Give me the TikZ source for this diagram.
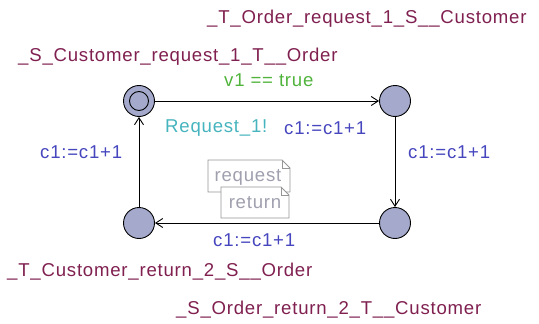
\documentclass[tikz,border=0pt]{standalone}
\usepackage{fontspec}
\setmainfont{Liberation Sans}[LetterSpace=4.2]
\usetikzlibrary{arrows.meta}
\definecolor{locname}{RGB}{128,32,80}
\definecolor{guardc}{RGB}{80,180,60}
\definecolor{syncc}{RGB}{70,180,190}
\definecolor{updc}{RGB}{70,70,190}
\definecolor{locfill}{RGB}{165,170,205}
\definecolor{notec}{RGB}{150,150,150}
\definecolor{notetxt}{RGB}{160,160,175}
\tikzset{
  loc/.style={circle,draw=black,fill=locfill,line width=0.9pt,minimum size=31pt,inner sep=0pt},
  lbl/.style={font=\fontsize{18.6}{19}\selectfont,inner sep=0pt,anchor=west},
  nm/.style={lbl,text=locname},
  gd/.style={lbl,text=guardc},
  sy/.style={lbl,text=syncc},
  up/.style={lbl,text=updc},
  edge/.style={line width=0.9pt,-{Straight Barb[length=7pt,width=9pt]}},
  notebox/.style={draw=notec,line width=0.8pt,fill=white},
  notetext/.style={font=\fontsize{18.6}{19}\selectfont,text=notetxt,inner sep=0pt}
}
\begin{document}
\begin{tikzpicture}[x=1pt,y=-1pt]
\useasboundingbox (0,0) rectangle (539,324);
% locations
\node[loc] (la) at (139,101) {};
\draw[line width=0.9pt] (la.center) circle (9.5pt);
\node[loc] (lb) at (395,101) {};
\node[loc] (lc) at (395,223) {};
\node[loc] (ld) at (139,223) {};
% edges
\draw[edge] (la) -- (lb);
\draw[edge] (lb) -- (lc);
\draw[edge] (lc) -- (ld);
\draw[edge] (ld) -- (la);
% names
\node[nm] (n1) at (207,19) {\_T\_Order\_request\_1\_S\_\_Customer};
\node[nm] (n2) at (18,57) {\_S\_Customer\_request\_1\_T\_\_Order};
\node[nm] (n3) at (7,272) {\_T\_Customer\_return\_2\_S\_\_Order};
\node[nm] (n4) at (176,310) {\_S\_Order\_return\_2\_T\_\_Customer};
% edge labels
\node[gd] (g1) at (224,80) {v1 == true};
\node[sy] (s1) at (165,128) {Request\_1!};
\node[up] (u1) at (284,128) {c1:=c1+1};
\node[up] (u2) at (408,152) {c1:=c1+1};
\node[up] (u3) at (40,152) {c1:=c1+1};
\node[up] (u4) at (213,240) {c1:=c1+1};
% notes
\draw[notebox] (208,160) -- (282,160) -- (290,168) -- (290,192) -- (208,192) -- cycle;
\draw[notec,line width=0.8pt] (282,160) -- (282,168) -- (290,168);
\node[notetext] (t1) at (248,177) {request};
\draw[notebox] (221,187) -- (281,187) -- (289,195) -- (289,218) -- (221,218) -- cycle;
\draw[notec,line width=0.8pt] (281,187) -- (281,195) -- (289,195);
\node[notetext] (t2) at (255,203) {return};
\end{tikzpicture}
\end{document}
